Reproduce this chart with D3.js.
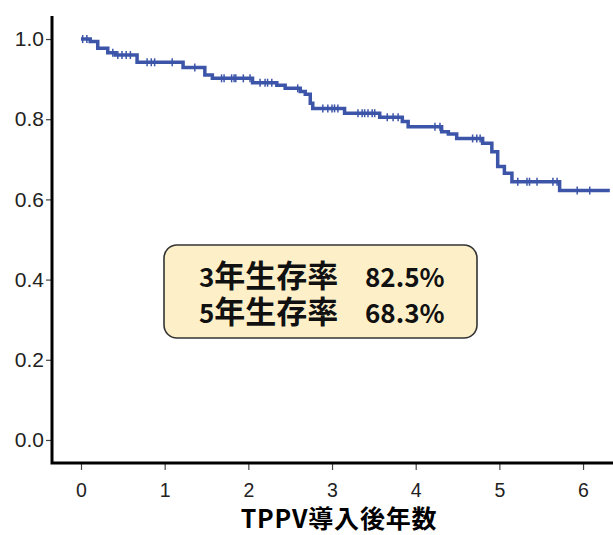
<!DOCTYPE html>
<html>
<head>
<meta charset="utf-8">
<script src="https://cdn.jsdelivr.net/npm/d3@7"></script>
<style>
  html, body { margin: 0; padding: 0; background: #fff; }
  svg { display: block; }
</style>
</head>
<body>
<svg id="chart" width="613" height="535"></svg>
<script>
// ---- data ----
const eventTimes = [0, 0.11, 0.20, 0.32, 0.41, 0.67, 1.22, 1.48, 1.57, 2.05, 2.34, 2.44, 2.62, 2.68, 2.74, 2.77,
  3.15, 3.57, 3.84, 3.91, 4.31, 4.39, 4.49, 4.80, 4.91, 4.98, 5.06, 5.15, 5.72];
const survival = [1.0, 0.994, 0.977, 0.966, 0.960, 0.942, 0.929, 0.910, 0.902, 0.891, 0.885, 0.877, 0.869, 0.862, 0.840, 0.827,
  0.815, 0.805, 0.794, 0.781, 0.769, 0.763, 0.752, 0.740, 0.719, 0.682, 0.665, 0.644, 0.622];
const endTime = 6.32;
const censorTimes = [0.02, 0.07, 0.38, 0.44, 0.49, 0.54, 0.59, 0.79, 0.84, 0.88, 1.09, 1.36,
  1.68, 1.71, 1.80, 1.83, 1.85, 1.94, 2.02, 2.14, 2.20, 2.23, 2.28, 2.59, 2.89, 2.95, 3.00, 3.03, 3.07,
  3.31, 3.36, 3.39, 3.43, 3.48, 3.51, 3.66, 3.73, 3.79, 4.23, 4.29, 4.68, 4.73, 4.77,
  5.22, 5.33, 5.36, 5.45, 5.64, 5.69, 5.93, 6.08];
const xTicks = [0, 1, 2, 3, 4, 5, 6];
const yTicks = [0.0, 0.2, 0.4, 0.6, 0.8, 1.0];
const xTitle = "TPPV導入後年数";
const boxLabels = ["3年生存率", "5年生存率"];
const boxValues = ["82.5%", "68.3%"];

// ---- layout ----
const svg = d3.select("#chart");
const x = d3.scaleLinear().domain([-0.3466, 6.358]).range([52, 613]);
const y = d3.scaleLinear().domain([-0.0574, 1.0574]).range([463, 16]);
const lineColor = "#3c55a9";

// axes
const gx = svg.append("g").attr("transform", "translate(0,463)")
  .call(d3.axisBottom(x).tickValues(xTicks).tickFormat(d3.format("d")).tickSizeOuter(0).tickSize(7).tickPadding(13));
const gy = svg.append("g").attr("transform", "translate(52,0)")
  .call(d3.axisLeft(y).tickValues(yTicks).tickFormat(d3.format(".1f")).tickSizeOuter(0).tickSize(6).tickPadding(2));

[gx, gy].forEach(g => {
  g.select(".domain").remove();
  g.selectAll(".tick line").attr("stroke", "#444").attr("stroke-width", 1.2);
  g.selectAll(".tick text")
    .attr("fill", "#222")
    .style("font-family", "'Liberation Sans', Arial, sans-serif");
});
gx.selectAll(".tick text").style("font-size", "19.5px");
gy.selectAll(".tick text").style("font-size", "21px");

// axis lines
const [x0, x1] = x.range();
const [yb, yt] = y.range();
svg.append("path")
  .attr("d", `M${x0},${yt}V${yb}H${x1}`)
  .attr("fill", "none").attr("stroke", "#000").attr("stroke-width", 3);

// survival curve
const pts = eventTimes.map((t, i) => [t, survival[i]]);
pts.push([endTime, survival[survival.length - 1]]);
const line = d3.line().x(d => x(d[0])).y(d => y(d[1])).curve(d3.curveStepAfter);
svg.append("path").datum(pts)
  .attr("d", line)
  .attr("fill", "none")
  .attr("stroke", lineColor)
  .attr("stroke-width", 3.5);

// censor marks
function survAt(t) {
  let s = 1;
  for (let i = 0; i < eventTimes.length; i++) if (eventTimes[i] <= t) s = survival[i];
  return s;
}
svg.append("g").selectAll("line").data(censorTimes).join("line")
  .attr("x1", d => x(d)).attr("x2", d => x(d))
  .attr("y1", d => y(survAt(d)) - 4).attr("y2", d => y(survAt(d)) + 4)
  .attr("stroke", lineColor).attr("stroke-width", 1.5);

// x title
svg.append("text")
  .attr("x", 339).attr("y", 528)
  .attr("text-anchor", "middle")
  .style("font-family", "'Noto Sans CJK JP', sans-serif")
  .style("font-weight", "bold")
  .style("font-size", "25px")
  .style("letter-spacing", "0.8px")
  .attr("fill", "#000")
  .text(xTitle);

// annotation box
svg.append("rect")
  .attr("x", 164).attr("y", 245).attr("width", 313).attr("height", 93)
  .attr("rx", 13).attr("ry", 13)
  .attr("fill", "#fdf0c9").attr("stroke", "#333").attr("stroke-width", 1.6);

const tg = svg.append("g")
  .style("font-family", "'Noto Sans CJK JP', sans-serif")
  .style("font-weight", "bold")
  .attr("fill", "#111");
boxLabels.forEach((lab, i) => {
  const by = 287 + i * 36;
  const t = tg.append("text").attr("x", 199).attr("y", by);
  t.append("tspan").style("font-size", "26px").text(lab.slice(0, 1));
  t.append("tspan").style("font-size", "31px").text(lab.slice(1));
  tg.append("text").attr("x", 365).attr("y", by).style("font-size", "26px").text(boxValues[i]);
});
</script>
</body>
</html>
